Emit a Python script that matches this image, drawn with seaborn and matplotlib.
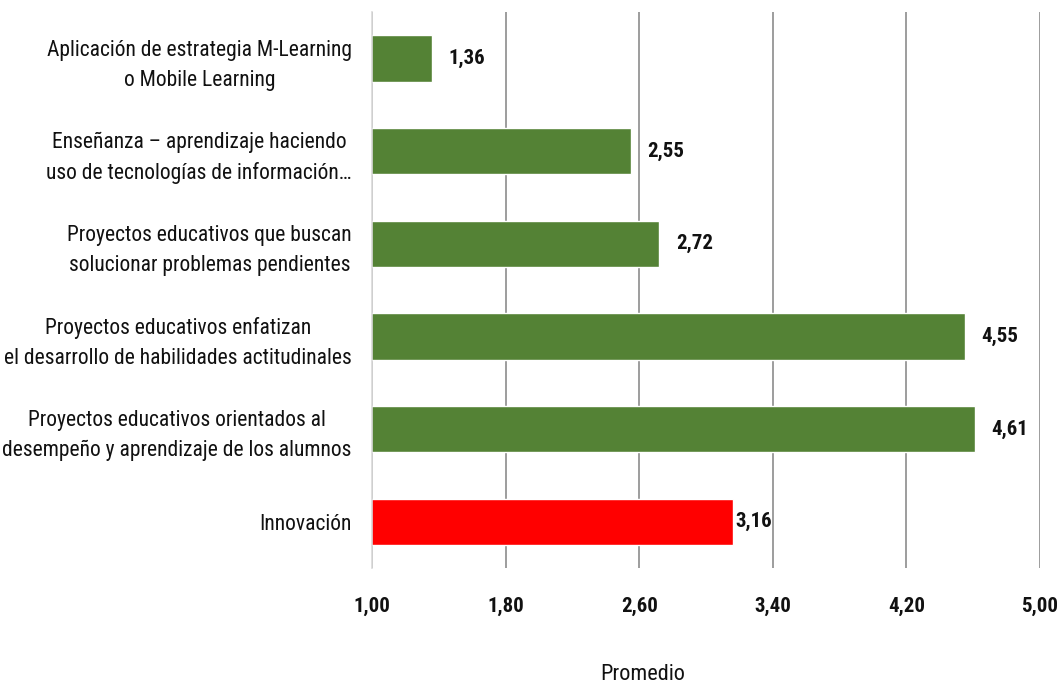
import matplotlib
matplotlib.use("Agg")
import matplotlib.pyplot as plt
import seaborn as sns
import pandas as pd
from matplotlib import font_manager

categories = [
    "Aplicación de estrategia M-Learning\no Mobile Learning",
    "Enseñanza – aprendizaje haciendo\nuso de tecnologías de información…",
    "Proyectos educativos que buscan\nsolucionar problemas pendientes",
    "Proyectos educativos enfatizan\nel desarrollo de habilidades actitudinales",
    "Proyectos educativos orientados al\ndesempeño y aprendizaje de los alumnos",
    "Innovación",
]
values = [1.36, 2.55, 2.72, 4.55, 4.61, 3.16]
colors = ["#548235", "#548235", "#548235", "#548235", "#548235", "#FF0000"]
x_ticks = [1.00, 1.80, 2.60, 3.40, 4.20, 5.00]
x_label = "Promedio"

sns.set_theme(style="white")
names = {f.name for f in font_manager.fontManager.ttflist}
base = "Lato"
for cand in ["Liberation Sans Narrow", "Roboto Condensed", "Open Sans Condensed", "Lato"]:
    if cand in names:
        base = cand
        break
plt.rcParams["font.family"] = [base, "DejaVu Sans"]

df = pd.DataFrame({"categoria": categories, "promedio": values})

fig = plt.figure(figsize=(10.64, 6.88), dpi=100)
ax = fig.add_axes([372 / 1064, 1 - 568 / 688, (1040 - 372) / 1064, (568 - 12) / 688])

sns.barplot(
    data=df, y="categoria", x="promedio", hue="categoria",
    palette=dict(zip(categories, colors)), legend=False,
    orient="h", width=0.5, ax=ax, saturation=1, zorder=3,
)

ax.set_xlim(1.0, 5.0)
ax.set_xticks(x_ticks)
ax.set_xticklabels([f"{t:.2f}".replace(".", ",") for t in x_ticks],
                   fontsize=15, fontweight="bold", color="#111111")
ax.tick_params(axis="x", length=0, pad=21)
ax.tick_params(axis="y", length=0, pad=14.5)
for lbl in ax.get_yticklabels():
    lbl.set_fontsize(15.5)
    lbl.set_color("#111111")
    lbl.set_multialignment("center")
    lbl.set_linespacing(1.55)

ax.grid(axis="x", color="#8c8c8c", linewidth=1.2, zorder=0)
ax.grid(axis="y", visible=False)
for side in ["top", "right", "bottom"]:
    ax.spines[side].set_visible(False)
ax.spines["left"].set_color("#d9d9d9")
ax.spines["left"].set_linewidth(1.2)
ax.spines["left"].set_zorder(4)

ax.set_xlabel("")
ax.set_ylabel("")

for cont, v in zip(ax.containers, values):
    pad = 2 if v == values[-1] else 12
    ax.bar_label(cont, labels=[f"{v:.2f}".replace(".", ",")], padding=pad,
                 fontsize=15, fontweight="bold", color="#111111")

fig.text(643 / 1064, 1 - 675 / 688, x_label, ha="center", va="center",
         fontsize=16, color="#111111")

fig.savefig("out.png", dpi=100, facecolor="white")
